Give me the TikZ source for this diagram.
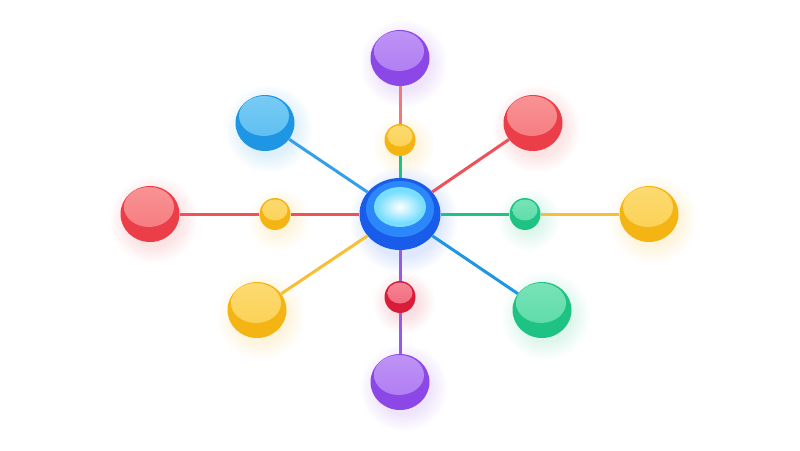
\documentclass[tikz,border=0pt]{standalone}
\usetikzlibrary{shapes.geometric,backgrounds}

\definecolor{purpleB}{RGB}{140,72,230}
\definecolor{purpleL}{RGB}{178,128,244}
\definecolor{blueB}{RGB}{30,150,228}
\definecolor{blueL}{RGB}{96,194,242}
\definecolor{redB}{RGB}{236,62,72}
\definecolor{redL}{RGB}{247,128,130}
\definecolor{crimB}{RGB}{216,28,58}
\definecolor{crimL}{RGB}{244,112,130}
\definecolor{yellowB}{RGB}{244,180,20}
\definecolor{yellowL}{RGB}{252,212,88}
\definecolor{greenB}{RGB}{30,194,130}
\definecolor{greenL}{RGB}{96,222,170}
\definecolor{hubB}{RGB}{26,92,234}
\definecolor{hubM}{RGB}{44,136,250}
\definecolor{hubC}{RGB}{120,222,255}

\tikzset{
  bigball/.style={ellipse, inner sep=0pt, minimum width=59pt, minimum height=56pt, fill=#1B,
    path picture={\fill[top color=#1L!85!white, bottom color=#1L!85!#1B] ([xshift=-1pt,yshift=7pt]path picture bounding box.center) ellipse (25pt and 20pt);}},
  smallball/.style={ellipse, inner sep=0pt, minimum width=31pt, minimum height=32pt, fill=#1B,
    path picture={\fill[top color=#1L!85!white, bottom color=#1L!85!#1B] ([yshift=4pt]path picture bounding box.center) ellipse (12.5pt and 10.5pt);}},
  hub/.style={ellipse, inner sep=0pt, minimum width=81pt, minimum height=72pt, fill=hubB,
    path picture={
      \fill[hubM] ([yshift=5pt]path picture bounding box.center) ellipse (34pt and 28pt);
      \fill[hubC] ([yshift=7pt]path picture bounding box.center) ellipse (26pt and 20pt);
      \shade[inner color=white, outer color=hubC] ([yshift=7pt]path picture bounding box.center) ellipse (23pt and 16pt);}},
  link/.style={line width=3pt, draw=#1}
}

\begin{document}
\begin{tikzpicture}[x=1pt,y=-1pt]
\useasboundingbox (0,0) rectangle (800,450);

\node[hub] (hub) at (400,214) {};

\node[bigball=purple] (nTop) at (400,58) {};
\node[bigball=blue] (nTL) at (265,123) {};
\node[bigball=red] (nTR) at (533,123) {};
\node[bigball=red] (nL) at (150,214) {};
\node[bigball=yellow] (nR) at (649,214) {};
\node[bigball=yellow] (nBL) at (257,310) {};
\node[bigball=green] (nBR) at (542,310) {};
\node[bigball=purple] (nBot) at (400,382) {};

\node[smallball=yellow] (dTop) at (400,140) {};
\node[smallball=yellow] (dL) at (275,214) {};
\node[smallball=green] (dR) at (525,214) {};
\node[smallball=crim] (dBot) at (400,297) {};

% soft glow under the balls
\begin{pgfonlayer}{background}
\foreach \n/\c/\r in {hub/hubB/36, nTop/purpleB/26, nTL/blueB/26, nTR/redB/26, nL/redB/26,
  nR/yellowB/26, nBL/yellowB/26, nBR/greenB/26, nBot/purpleB/26,
  dTop/yellowB/13, dL/yellowB/13, dR/greenB/13, dBot/crimB/13}
  \foreach \k in {1,...,12}
    \fill[\c, opacity=0.012] ([xshift=4pt,yshift=-6pt]\n.center) circle [radius=\r pt+\k*1.5pt];
\end{pgfonlayer}

\draw[link=redB!70!white] (nTop) -- (dTop);
\draw[link=greenB] (dTop) -- (hub);
\draw[link=blueB!90!white] (hub) -- (nTL);
\draw[link=redB!90!white] (hub) -- (nTR);
\draw[link=redB!90!white] (nL) -- (dL);
\draw[link=redB!90!white] (dL) -- (hub);
\draw[link=greenB] (hub) -- (dR);
\draw[link=yellowB!85!white] (dR) -- (nR);
\draw[link=yellowB!85!white] (hub) -- (nBL);
\draw[link=blueB] (hub) -- (nBR);
\draw[link=purpleB!90!white] (hub) -- (dBot);
\draw[link=purpleB!90!white] (dBot) -- (nBot);
\end{tikzpicture}
\end{document}
